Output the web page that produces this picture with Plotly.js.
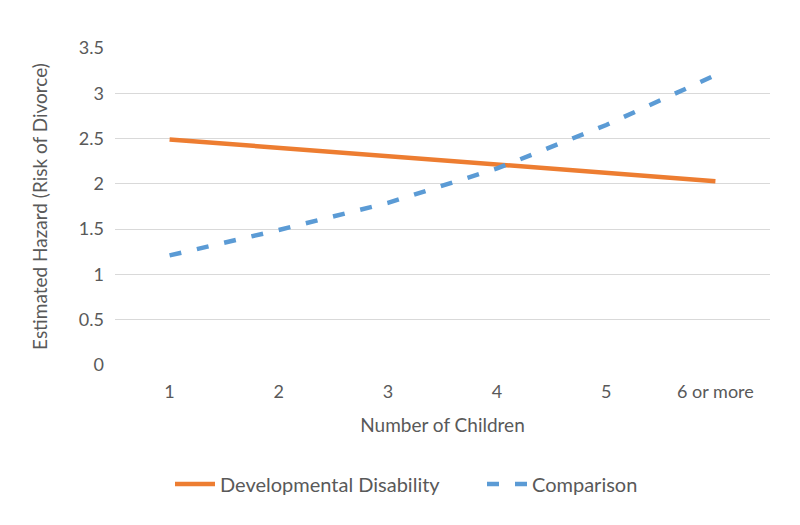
<!DOCTYPE html>
<html>
<head>
<meta charset="utf-8">
<script src="https://cdn.plot.ly/plotly-3.0.1.min.js"></script>
<style>html,body{margin:0;padding:0;background:#fff;}#chart{width:800px;height:525px;}</style>
</head>
<body>
<div id="chart"></div>
<script>
const categories = ["1", "2", "3", "4", "5", "6 or more"];
const developmentalDisability = [2.49, 2.40, 2.30, 2.21, 2.12, 2.03];
const comparison = [1.21, 1.49, 1.79, 2.17, 2.65, 3.20];
const yTicks = [0, 0.5, 1, 1.5, 2, 2.5, 3, 3.5];
const yTickLabels = ["0", "0.5", "1", "1.5", "2", "2.5", "3", "3.5"];

const font = "Lato, 'Open Sans', sans-serif";
const traces = [
  {
    x: categories, y: developmentalDisability, type: "scatter", mode: "lines",
    name: "Developmental Disability",
    line: {color: "#ED7D31", width: 4.5}
  },
  {
    x: categories, y: comparison, type: "scatter", mode: "lines",
    name: "Comparison",
    line: {color: "#5B9BD5", width: 4.5, dash: "12px,16px"}
  }
];
const layout = {
  width: 800, height: 525,
  margin: {l: 115, r: 30, t: 48, b: 160},
  paper_bgcolor: "#fff", plot_bgcolor: "#fff",
  font: {family: font, size: 18, color: "#595959"},
  showlegend: true,
  xaxis: {
    type: "category", range: [-0.5, 5.5], showgrid: false, zeroline: false,
    showline: false, ticks: "", ticklabelstandoff: 14,
    tickfont: {size: 18, color: "#595959"},
    title: {text: "Number of Children", font: {size: 19, color: "#595959"}, standoff: 17}
  },
  yaxis: {
    range: [0, 3.5], tickvals: yTicks, ticktext: yTickLabels,
    showgrid: true, gridcolor: "#d9d9d9", gridwidth: 1,
    zeroline: false, showline: false, ticks: "", ticklabelstandoff: 10,
    tickfont: {size: 18, color: "#595959"},
    title: {text: "Estimated Hazard (Risk of Divorce)", font: {size: 19, color: "#595959"}, standoff: 26}
  },
  legend: {
    orientation: "h", xref: "container", yref: "container",
    x: 170 / 800, xanchor: "left", y: 0.078, yanchor: "middle",
    font: {size: 20, color: "#595959"}, itemwidth: 40,
    entrywidth: 257,
    traceorder: "normal"
  }
};
Plotly.newPlot("chart", traces, layout, {displayModeBar: false, staticPlot: true});
</script>
</body>
</html>
